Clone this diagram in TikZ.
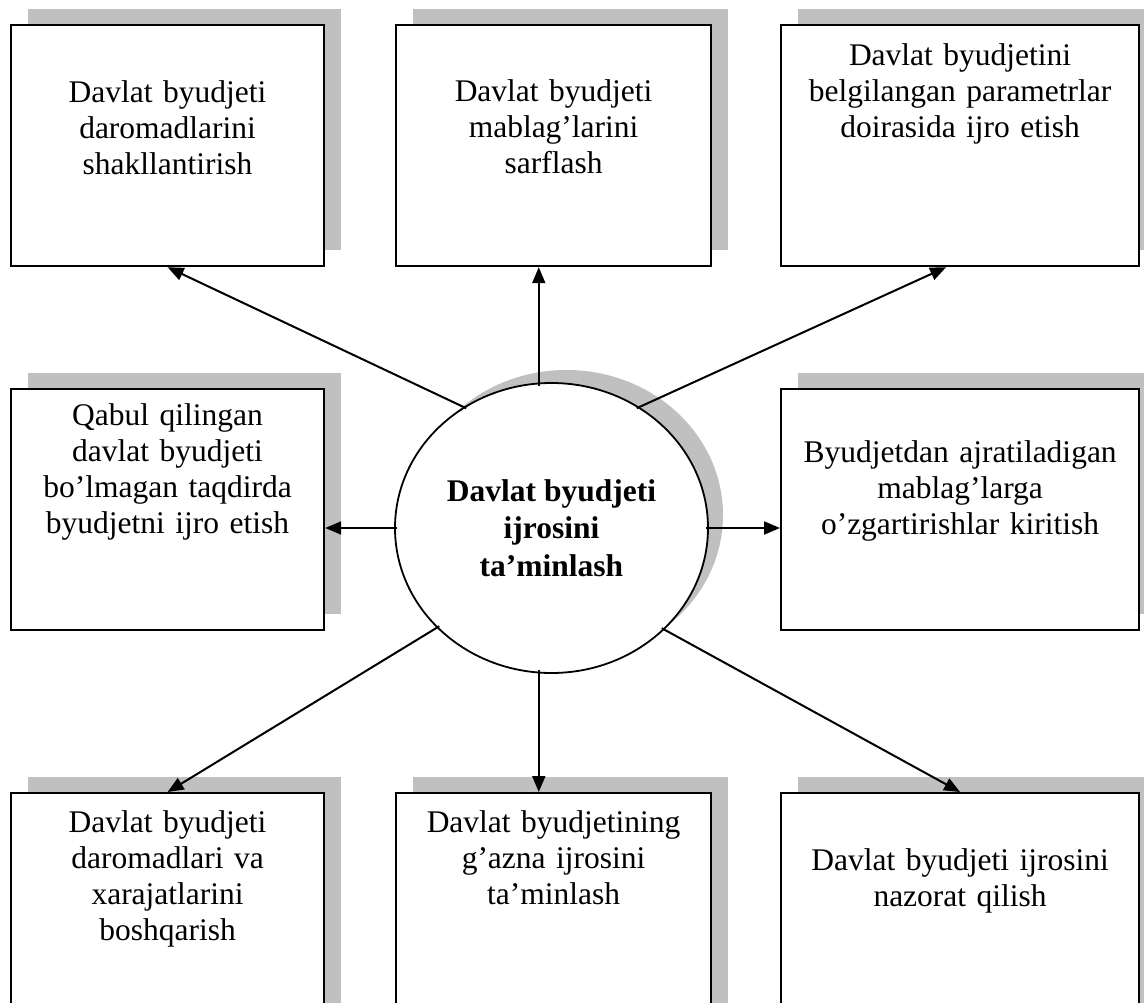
\documentclass[tikz,border=0pt]{standalone}
\usepackage{fontspec}
\setmainfont{Liberation Serif}
\usetikzlibrary{positioning,calc,shadows,arrows.meta,shapes.geometric}
\definecolor{shadegray}{RGB}{192,192,192}
\tikzset{
  box/.style={draw, line width=2.2pt, fill=white, anchor=north west, minimum height=241pt,
    drop shadow={shadow xshift=17pt, shadow yshift=16pt, fill=shadegray, opacity=1}},
  txt/.style={anchor=base, align=center, inner sep=0pt, font=\fontsize{31.5}{36}\selectfont},
  link/.style={line width=2pt, shorten <=-3pt, -{Triangle[length=16pt,width=13pt]}}
}
\begin{document}
\begin{tikzpicture}[x=1pt,y=-1pt]
\useasboundingbox (0,0) rectangle (1144,1003);
% boxes
\node[box, minimum width=313pt] (b1) at (10,24) {};
\node[box, minimum width=315pt] (b2) at (395,24) {};
\node[box, minimum width=358pt] (b3) at (780,24) {};
\node[box, minimum width=313pt] (b4) at (10,388) {};
\node[box, minimum width=358pt] (b5) at (780,388) {};
\node[box, minimum width=313pt] (b7) at (10,792) {};
\node[box, minimum width=315pt] (b8) at (395,792) {};
\node[box, minimum width=358pt] (b9) at (780,792) {};
% centre
\node[ellipse, draw, line width=1.8pt, fill=white, minimum width=313pt, minimum height=290pt,
  drop shadow={shadow xshift=15pt, shadow yshift=13pt, fill=shadegray, opacity=1},
  align=center, font=\fontsize{31.5}{37.5}\selectfont\bfseries] (c) at (551.5,528)
  {Davlat byudjeti\\ijrosini\\ta’minlash};
% texts
\node[txt, text width=293pt] (t1) at ($(b1.north)+(0,79)$) {Davlat byudjeti\\daromadlarini\\shakllantirish};
\node[txt, text width=295pt] (t2) at ($(b2.north)+(0,78)$) {Davlat byudjeti\\mablag’larini\\sarflash};
\node[txt, text width=338pt] (t3) at ($(b3.north)+(0,42)$) {Davlat byudjetini\\belgilangan parametrlar\\doirasida ijro etish};
\node[txt, text width=293pt] (t4) at ($(b4.north)+(0,37)$) {Qabul qilingan\\davlat byudjeti\\bo’lmagan taqdirda\\byudjetni ijro etish};
\node[txt, text width=338pt] (t5) at ($(b5.north)+(0,74)$) {Byudjetdan ajratiladigan\\mablag’larga\\o’zgartirishlar kiritish};
\node[txt, text width=293pt] (t7) at ($(b7.north)+(0,40)$) {Davlat byudjeti\\daromadlari va\\xarajatlarini\\boshqarish};
\node[txt, text width=295pt] (t8) at ($(b8.north)+(0,40)$) {Davlat byudjetining\\g’azna ijrosini\\ta’minlash};
\node[txt, text width=338pt] (t9) at ($(b9.north)+(0,78)$) {Davlat byudjeti ijrosini\\nazorat qilish};
% arrows
\draw[link] (c.126) -- (b1.south);
\draw[link] (c.95) -- (c.95 |- b2.south);
\draw[link] (c.54) -- ($(b3.south)+(-14,0)$);
\draw[link] (c.west) -- (c.west -| b4.east);
\draw[link] (c.east) -- (c.east -| b5.west);
\draw[link] (c.221) -- (b7.north);
\draw[link] (c.265) -- (c.265 |- b8.north);
\draw[link] (c.318) -- (b9.north);
\end{tikzpicture}
\end{document}
